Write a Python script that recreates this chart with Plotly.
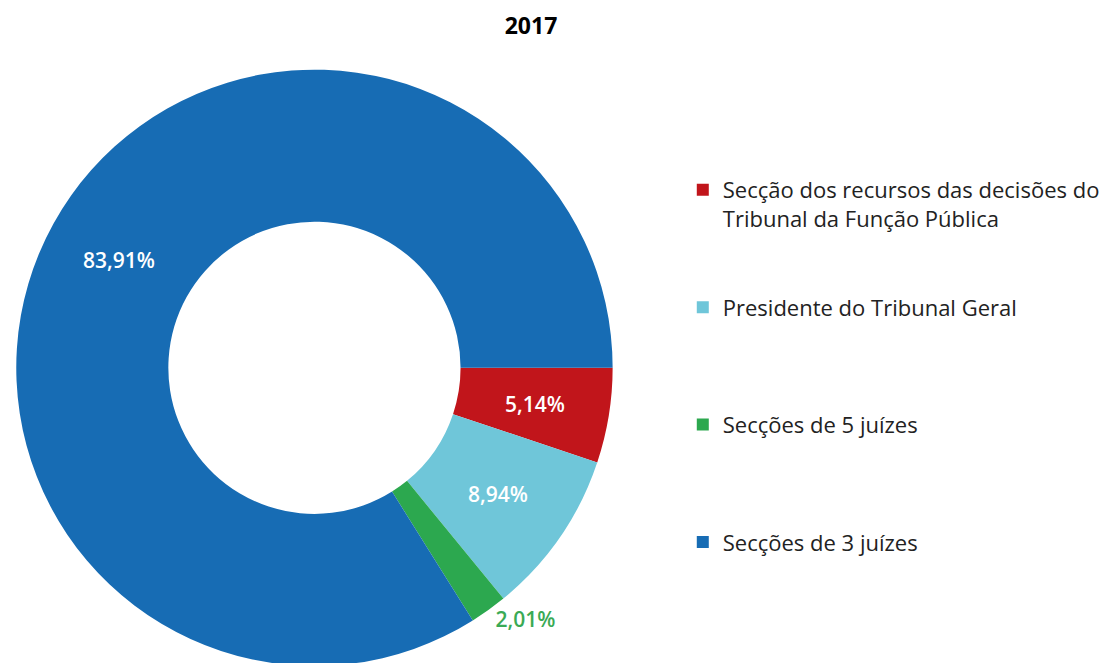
import math
import plotly.graph_objects as go

categories = [
    "Secção dos recursos das decisões do<br>Tribunal da Função Pública",
    "Presidente do Tribunal Geral",
    "Secções de 5 juízes",
    "Secções de 3 juízes",
]
values = [5.14, 8.94, 2.01, 83.91]
colors = ["#c1151b", "#6fc6d9", "#2ca84f", "#176cb4"]
text_positions = ["none", "none", "outside", "none"]
text_colors = ["white", "white", "#3aaa55", "white"]
title_text = "2017"

labels_fmt = [f"{v:.2f}".replace(".", ",") + "%" for v in values]
pad = ["<br> <br> ", "<br> <br> <br> ", "<br> <br> <br> ", ""]
legend_labels = [c + p for c, p in zip(categories, pad)]

W, H = 1115, 663
off = 8  # page body margin
cx, cy, r = 313 - off, 370 - off, 300
hole = 0.49

fig = go.Figure(go.Pie(
    labels=legend_labels,
    values=values,
    text=labels_fmt,
    texttemplate="%{text}",
    textposition=text_positions,
    textfont=dict(color=text_colors, size=21, family="Open Sans", weight=600),
    marker=dict(colors=colors, line=dict(width=0)),
    hole=hole,
    sort=False,
    direction="clockwise",
    rotation=90,
    domain=dict(x=[(cx - r) / W, (cx + r) / W], y=[(H - cy - r) / H, (H - cy + r) / H]),
    showlegend=True,
))

# inside labels centred on the ring, at each slice's mid-angle (derived from the values)
total = sum(values)
cum = 0.0
rmid = r * (1 + hole) / 2
for v, lab, pos, col in zip(values, labels_fmt, text_positions, text_colors):
    mid = (cum + v / 2) / total * 2 * math.pi  # clockwise from 3 o'clock
    cum += v
    if pos != "none":
        continue
    px = cx + rmid * math.cos(mid)
    py = cy + rmid * math.sin(mid)
    fig.add_annotation(x=px / W, y=1 - py / H, xref="paper", yref="paper",
                       text=lab, showarrow=False, xanchor="center", yanchor="middle",
                       font=dict(color=col, size=21, family="Open Sans", weight=600))

fig.update_layout(
    width=W, height=H,
    margin=dict(l=0, r=0, t=0, b=0),
    paper_bgcolor="white",
    plot_bgcolor="white",
    title=dict(text=f"<b>{title_text}</b>", x=(531 - off) / W, xanchor="center",
               y=1 - (26 - off) / H, yanchor="middle", yref="container",
               font=dict(family="Open Sans", size=23, color="black")),
    legend=dict(x=(682 - off) / W, xanchor="left", y=1 - (170 - off) / H, yanchor="top",
                valign="top", font=dict(family="Open Sans", size=22, color="#222222"),
                bgcolor="rgba(0,0,0,0)"),
)

fig.write_html("out.html")
